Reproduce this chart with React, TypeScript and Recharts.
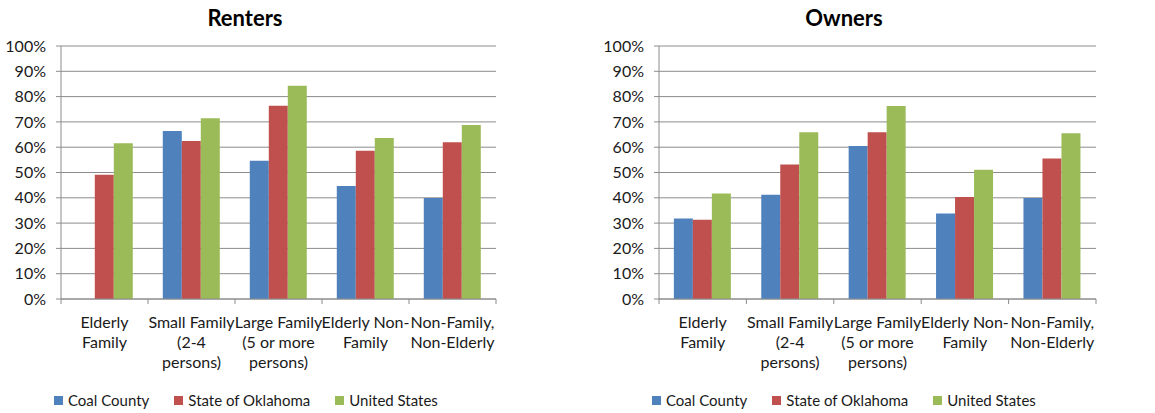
import { Bar, BarChart, CartesianGrid, XAxis, YAxis } from "recharts";

const categories = [
  "Elderly Family",
  "Small Family (2-4 persons)",
  "Large Family (5 or more persons)",
  "Elderly Non-Family",
  "Non-Family, Non-Elderly",
];
const categoryLines = [
  ["Elderly", "Family"],
  ["Small Family", "(2-4", "persons)"],
  ["Large Family", "(5 or more", "persons)"],
  ["Elderly Non-", "Family"],
  ["Non-Family,", "Non-Elderly"],
];

const seriesNames = ["Coal County", "State of Oklahoma", "United States"];
const seriesColors = ["#4F81BD", "#C0504D", "#9BBB59"];

const rentersCoal = [0, 66.4, 54.6, 44.7, 39.9];
const rentersOklahoma = [49.1, 62.5, 76.4, 58.6, 62.0];
const rentersUS = [61.6, 71.4, 84.3, 63.6, 68.8];

const ownersCoal = [31.8, 41.2, 60.5, 33.8, 39.9];
const ownersOklahoma = [31.3, 53.2, 65.9, 40.3, 55.5];
const ownersUS = [41.7, 65.9, 76.3, 51.1, 65.5];

const yTicks = [0, 10, 20, 30, 40, 50, 60, 70, 80, 90, 100];

const FONT = "Lato, 'Open Sans', sans-serif";
const GRAY = "#8c8c8c";
const TEXT = "#1a1a1a";

const buildRows = (a: number[], b: number[], c: number[]) =>
  categories.map((cat, i) => ({ cat, s0: a[i], s1: b[i], s2: c[i] }));

type PanelProps = {
  title: string;
  rows: ReturnType<typeof buildRows>;
  left: number;
  width: number;
  plotLeft: number;
  plotRight: number;
  titleX: number;
  legendX: number;
};

function Panel({ title, rows, left, width, plotLeft, plotRight, titleX, legendX }: PanelProps) {
  const height = 413;
  const plotTop = 46;
  const plotBottom = 299;
  const band = (plotRight - plotLeft) / categories.length;

  // category labels plus the boundary tick marks between groups
  const renderTick = (props: any) => {
    const { x, y, index } = props;
    const lines = categoryLines[index] || [];
    return (
      <g>
        <line x1={x - band / 2} x2={x - band / 2} y1={y} y2={y + 5} stroke={GRAY} />
        {index === categories.length - 1 && (
          <line x1={x + band / 2} x2={x + band / 2} y1={y} y2={y + 5} stroke={GRAY} />
        )}
        <text x={x} y={y + 29} textAnchor="middle" fill={TEXT} fontSize={16} fontFamily={FONT}>
          {lines.map((l, i) => (
            <tspan key={i} x={x} dy={i === 0 ? 0 : 20}>
              {l}
            </tspan>
          ))}
        </text>
      </g>
    );
  };

  return (
    <div style={{ position: "absolute", left, top: 0, width, height }}>
      <div
        style={{
          position: "absolute",
          left: titleX - 100,
          width: 200,
          top: 4,
          textAlign: "center",
          fontFamily: FONT,
          fontWeight: 700,
          fontSize: 22,
          color: "#000",
        }}
      >
        {title}
      </div>
      <BarChart
        width={width}
        height={height}
        data={rows}
        margin={{ top: plotTop, right: width - plotRight, left: 0, bottom: 0 }}
        barCategoryGap="17%"
        barGap={0}
      >
        <CartesianGrid vertical={false} stroke={GRAY} strokeWidth={1} />
        <XAxis
          dataKey="cat"
          interval={0}
          tickSize={0}
          tickMargin={0}
          tickLine={false}
          axisLine={{ stroke: GRAY }}
          height={height - plotBottom}
          tick={renderTick}
        />
        <YAxis
          width={plotLeft}
          domain={[0, 100]}
          ticks={yTicks}
          interval={0}
          tickFormatter={(v) => `${v}%`}
          tick={{ fill: TEXT, fontSize: 16, fontFamily: FONT }}
          tickSize={5}
          tickMargin={10}
          tickLine={{ stroke: GRAY }}
          axisLine={{ stroke: GRAY }}
        />
        {["s0", "s1", "s2"].map((k, i) => (
          <Bar
            key={k}
            dataKey={k}
            name={seriesNames[i]}
            fill={seriesColors[i]}
            isAnimationActive={false}
          />
        ))}
      </BarChart>
      <div
        style={{
          position: "absolute",
          left: legendX,
          top: 391,
          display: "flex",
          fontFamily: FONT,
          fontSize: 15,
          color: TEXT,
          whiteSpace: "nowrap",
        }}
      >
        {seriesNames.map((n, i) => (
          <div key={n} style={{ display: "flex", alignItems: "center", marginRight: 25 }}>
            <span
              style={{
                display: "inline-block",
                width: 9,
                height: 9,
                background: seriesColors[i],
                marginRight: 5,
              }}
            />
            {n}
          </div>
        ))}
      </div>
    </div>
  );
}

export default function App() {
  return (
    <div style={{ position: "absolute", left: 0, top: 0, width: 1155, height: 413, background: "#fff" }}>
      <Panel
        title="Renters"
        rows={buildRows(rentersCoal, rentersOklahoma, rentersUS)}
        left={0}
        width={580}
        plotLeft={61}
        plotRight={496}
        titleX={245}
        legendX={54}
      />
      <Panel
        title="Owners"
        rows={buildRows(ownersCoal, ownersOklahoma, ownersUS)}
        left={580}
        width={575}
        plotLeft={79}
        plotRight={516}
        titleX={264}
        legendX={72}
      />
    </div>
  );
}
